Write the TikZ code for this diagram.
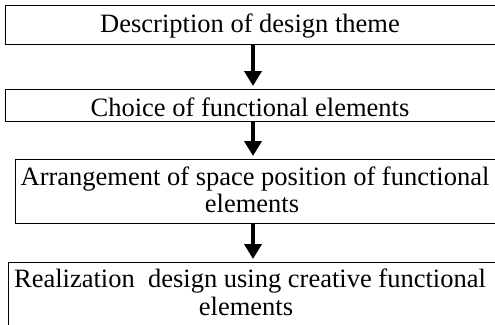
\documentclass[tikz,border=0pt]{standalone}
\usepackage{fontspec}
\setmainfont{Liberation Serif}
\usetikzlibrary{arrows.meta}
\begin{document}
\begin{tikzpicture}[x=1pt,y=-1pt,
  box/.style={draw=black,line width=1.3pt,inner sep=0pt},
  txt/.style={inner sep=0pt,align=center,anchor=base,
    font=\fontsize{26.5}{27.5}\selectfont},
  flow/.style={line width=4pt,shorten >=3pt,-{Triangle[length=15pt,width=17pt]}}]
\useasboundingbox (0,0) rectangle (495,324);
\clip (0,0) rectangle (495,324);
\node[box,minimum width=500pt,minimum height=39pt,anchor=north west] (b1) at (5,5) {};
\node[box,minimum width=500pt,minimum height=32pt,anchor=north west] (b2) at (5,89) {};
\node[box,minimum width=490pt,minimum height=64pt,anchor=north west] (b3) at (15,159) {};
\node[box,minimum width=497pt,minimum height=80pt,anchor=north west] (b4) at (8,262) {};
\node[txt] (t1) at (250,32) {Description of design theme};
\node[txt] (t2) at (250,116) {Choice of functional elements};
\node[txt] (t3a) at (255,185) {Arrangement of space position of functional};
\node[txt] (t3b) at (252,212) {elements};
\node[txt] (t4a) at (250,287) {Realization\ \ design using creative functional};
\node[txt] (t4b) at (246,315) {elements};
\coordinate (ax) at (253,0);
\draw[flow] (b1.south -| ax) -- (b2.north -| ax);
\draw[flow] (b2.south -| ax) -- (b3.north -| ax);
\draw[flow] (b3.south -| ax) -- (b4.north -| ax);
\end{tikzpicture}
\end{document}
